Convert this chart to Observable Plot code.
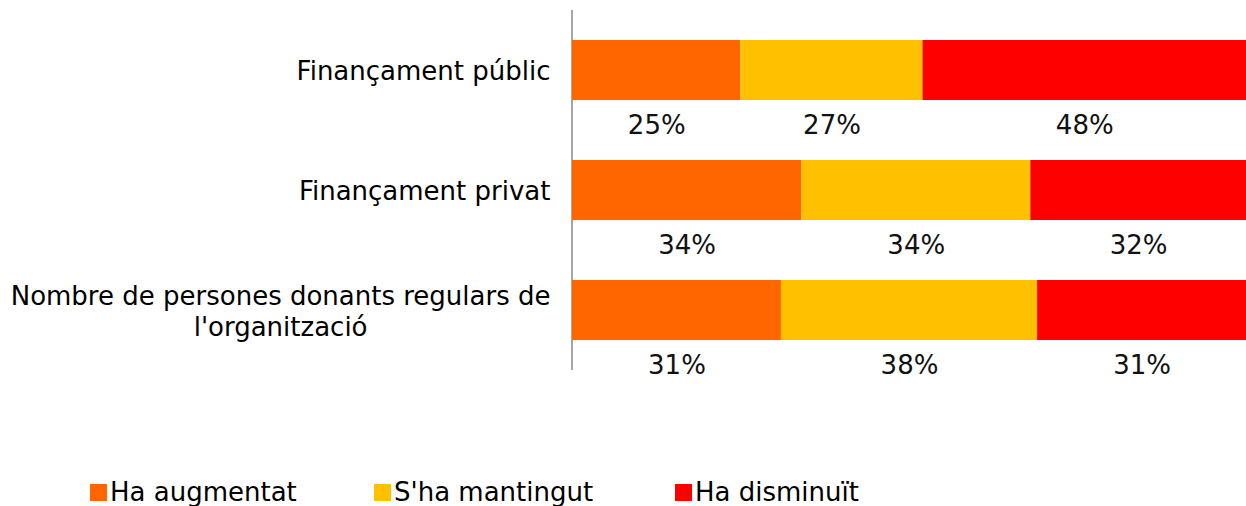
<!DOCTYPE html>
<html>
<head>
<meta charset="utf-8">
<script src="https://cdn.jsdelivr.net/npm/d3@7"></script>
<script src="https://cdn.jsdelivr.net/npm/@observablehq/plot@0.6"></script>
<style>
  body { margin: 0; background: #fff; font-family: "DejaVu Sans", Verdana, sans-serif; }
  #chart { position: relative; width: 1246px; height: 506px; }
  .legend { position: absolute; top: 477px; left: 0; width: 1246px; height: 29px; font-size: 26px; color: #000; }
  .legend .item { position: absolute; top: 0; display: flex; align-items: center; white-space: nowrap; }
  .legend .sw { width: 17px; height: 17px; margin-right: 3px; }
</style>
</head>
<body>
<div id="chart"></div>
<script>
const categories = ["Finançament públic", "Finançament privat", "Nombre de persones donants regulars de l'organització"];
const series = ["Ha augmentat", "S'ha mantingut", "Ha disminuït"];
const colors = ["#FF6600", "#FFC000", "#FF0000"];
const augmentat = [25, 34, 31];
const mantingut = [27, 34, 38];
const disminuit = [48, 32, 31];

const seriesValues = [augmentat, mantingut, disminuit];
const data = [];
series.forEach((s, si) => categories.forEach((c, ci) => data.push({cat: c, series: s, value: seriesValues[si][ci]})));

const W = 1246;
const plot = Plot.plot({
  width: W,
  height: 470,
  marginLeft: 572,
  marginRight: 0,
  marginTop: 10,
  marginBottom: 100,
  style: {fontFamily: "DejaVu Sans, Verdana, sans-serif", background: "transparent", color: "#000"},
  x: {domain: [0, 100], axis: null},
  y: {domain: categories, paddingInner: 0.5, paddingOuter: 0.25, align: 0.5, label: null},
  color: {domain: series, range: colors},
  marks: [
    Plot.axisY({tickSize: 0, tickPadding: 22, fontSize: 26, lineWidth: 22, lineHeight: 1.2, label: null, textAnchor: "end", fill: "#000"}),
    Plot.ruleX([0], {stroke: "#a6a6a6", strokeWidth: 2, dx: -0.5}),
    Plot.barX(data, Plot.stackX({x: "value", y: "cat", fill: "series", order: series})),
    Plot.text(data, Plot.stackX({x: "value", y: "cat", z: "series", order: series, text: d => d.value + "%", dy: 55, fontSize: 26, fill: "#111", style: "letter-spacing:1.5px"}))
  ]
});
document.getElementById("chart").appendChild(plot);

// center multi-line category labels relative to each other
plot.querySelectorAll("g[aria-label='y-axis tick label'] text").forEach(t => {
  const spans = t.querySelectorAll("tspan");
  if (spans.length > 1) {
    const w = t.getBBox().width;
    t.setAttribute("text-anchor", "middle");
    const tr = t.getAttribute("transform");
    t.setAttribute("transform", (tr || "") + ` translate(${-w / 2},0)`);
  }
});

const legend = document.createElement("div");
legend.className = "legend";
const lefts = [90, 374, 675];
series.forEach((s, i) => {
  const it = document.createElement("div");
  it.className = "item";
  it.style.left = lefts[i] + "px";
  it.innerHTML = `<span class="sw" style="background:${colors[i]}"></span><span>${s}</span>`;
  legend.appendChild(it);
});
document.getElementById("chart").appendChild(legend);
</script>
</body>
</html>
